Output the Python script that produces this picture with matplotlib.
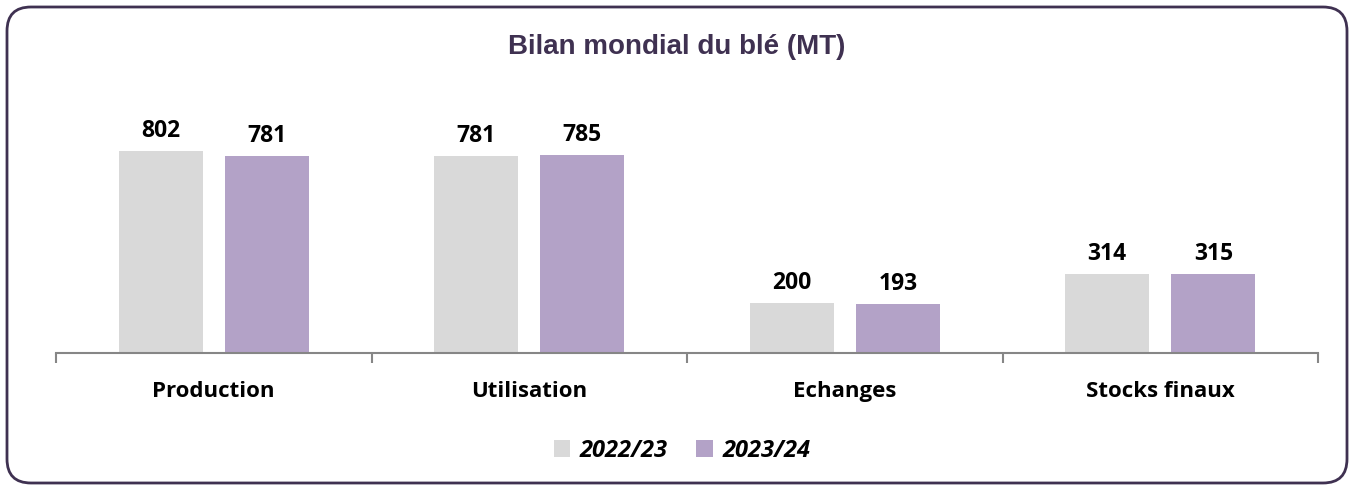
import numpy as np
import matplotlib.pyplot as plt
from matplotlib.patches import FancyBboxPatch, Patch

# World wheat balance, million tonnes
categories = ['Production', 'Utilisation', 'Echanges', 'Stocks finaux']
seasons = ['2022/23', '2023/24']
values_2022 = [802, 781, 200, 314]
values_2023 = [781, 785, 193, 315]

colors = ['#d9d9d9', '#b3a2c7']
frame_color = '#3f3151'
label_font = ['Open Sans', 'DejaVu Sans']

W, H = 1354, 486
fig = plt.figure(figsize=(W / 100, H / 100), dpi=100)

# background axes in pixel units, holding the rounded frame
bg = fig.add_axes([0, 0, 1, 1], zorder=-1)
bg.set_xlim(0, W)
bg.set_ylim(H, 0)
bg.axis('off')
bg.add_patch(FancyBboxPatch((7, 7), 1340, 476,
                            boxstyle='round,pad=0,rounding_size=24',
                            facecolor='white', edgecolor=frame_color, linewidth=2))

ax = fig.add_axes([56 / W, 1 - 353 / H, (1318 - 56) / W, 252 / H])
ax.set_facecolor('none')

x = np.arange(len(categories))
width = 0.266
gap = 0.07
bars1 = ax.bar(x - (width + gap) / 2, values_2022, width, color=colors[0])
bars2 = ax.bar(x + (width + gap) / 2, values_2023, width, color=colors[1])

for bars, vals in [(bars1, values_2022), (bars2, values_2023)]:
    for b, v in zip(bars, vals):
        ax.text(b.get_x() + b.get_width() / 2, v + 32, str(v), ha='center', va='bottom',
                fontsize=16.5, fontweight='bold', family=label_font)

ax.set_xlim(-0.5, len(categories) - 0.5)
ax.set_ylim(0, 1000)
ax.set_yticks([])
for s in ['top', 'right', 'left']:
    ax.spines[s].set_visible(False)
ax.spines['bottom'].set_color('#868686')
ax.spines['bottom'].set_linewidth(1.5)

# category labels between boundary ticks
ax.set_xticks(np.arange(-0.5, len(categories)), minor=False)
ax.set_xticklabels([])
ax.tick_params(axis='x', length=7, width=1.5, color='#868686')
ax.set_xticks(x, minor=True)
ax.set_xticklabels(categories, minor=True, fontsize=16, fontweight='bold', family=label_font)
ax.tick_params(axis='x', which='minor', length=0, pad=20)

fig.text(677 / W, 1 - 47 / H, 'Bilan mondial du blé (MT)', ha='center', va='center',
         fontsize=20, fontweight='bold', color=frame_color, family='Liberation Sans')

handles = [Patch(facecolor=c, edgecolor='none') for c in colors]
fig.legend(handles, seasons, loc='center', bbox_to_anchor=(682 / W, 1 - 451 / H),
           ncol=2, frameon=False, handlelength=0.7, handleheight=0.7, handletextpad=0.4,
           columnspacing=1.2,
           prop={'family': label_font, 'weight': 'bold', 'style': 'italic', 'size': 17})

fig.savefig('out.png', dpi=100)
